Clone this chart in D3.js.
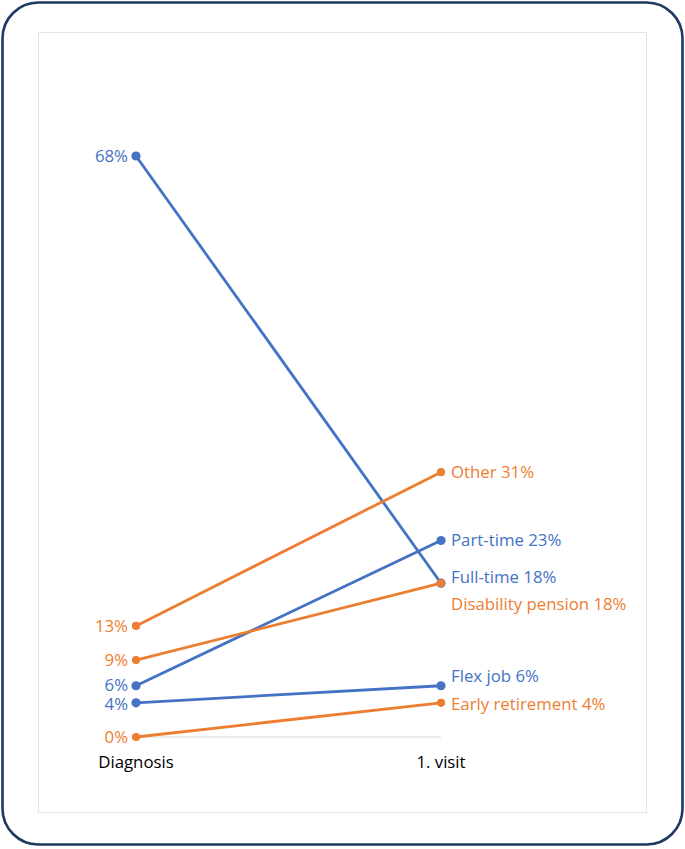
<!DOCTYPE html>
<html><head><meta charset="utf-8">
<script src="https://cdn.jsdelivr.net/npm/d3@7"></script>
<style>body{margin:0;background:#fff}svg{display:block}text{font-family:"Open Sans","Liberation Sans",Arial,sans-serif}</style>
</head><body>
<script>
const categories = ["Diagnosis", "1. visit"];
const seriesNames = ["Full-time", "Part-time", "Flex job", "Other", "Disability pension", "Early retirement"];
const diagnosisValues = [68, 6, 4, 13, 9, 0];
const visitValues = [18, 23, 6, 31, 18, 4];
const seriesGroup = ["blue", "blue", "blue", "orange", "orange", "orange"];

const W = 685, H = 849;
const FS = 16.8;
const colors = {blue: "#4472C4", orange: "#ED7D31"};
const svg = d3.select("body").append("svg").attr("width", W).attr("height", H);

svg.append("rect").attr("x", 2.5).attr("y", 2.5).attr("width", 680).attr("height", 842)
  .attr("rx", 36).attr("fill", "#fff").attr("stroke", "#1F3A60").attr("stroke-width", 2.6);
svg.append("rect").attr("x", 38.5).attr("y", 32.5).attr("width", 608).attr("height", 780)
  .attr("fill", "none").attr("stroke", "#E4E4E4").attr("stroke-width", 1);

const x = d3.scalePoint().domain(categories).range([136, 441]);
const y = d3.scaleLinear().domain([0, 68]).range([737, 156]);

svg.append("line").attr("x1", x(categories[0])).attr("x2", x(categories[1]))
  .attr("y1", y(0)).attr("y2", y(0)).attr("stroke", "#D9D9D9").attr("stroke-width", 1);

const data = seriesNames.map((n, i) => ({name: n, a: diagnosisValues[i], b: visitValues[i], c: colors[seriesGroup[i]], g: seriesGroup[i]}));
const order = data.filter(d => d.g === "blue").concat(data.filter(d => d.g === "orange"));

order.forEach(d => {
  svg.append("line").attr("x1", x(categories[0])).attr("y1", y(d.a))
    .attr("x2", x(categories[1])).attr("y2", y(d.b))
    .attr("stroke", d.c).attr("stroke-width", 2.8);
  const r = d.g === "blue" ? 4.6 : 4.1;
  svg.append("circle").attr("cx", x(categories[0])).attr("cy", y(d.a)).attr("r", r).attr("fill", d.c);
  svg.append("circle").attr("cx", x(categories[1])).attr("cy", y(d.b)).attr("r", r).attr("fill", d.c);
});

const rightNudge = {"Full-time": -6, "Disability pension": 21, "Flex job": -10, "Early retirement": 1};
const leftNudge = {"Part-time": -1, "Flex job": 1.5};

data.forEach(d => {
  svg.append("text").attr("x", x(categories[0]) - 8).attr("y", y(d.a) + (leftNudge[d.name] || 0))
    .attr("dy", "0.35em").attr("text-anchor", "end").attr("font-size", FS).attr("fill", d.c)
    .text(d.a + "%");
  svg.append("text").attr("x", x(categories[1]) + 10).attr("y", y(d.b) + (rightNudge[d.name] || 0))
    .attr("dy", "0.35em").attr("text-anchor", "start").attr("font-size", FS).attr("fill", d.c)
    .text(d.name + " " + d.b + "%");
});

categories.forEach(c => {
  svg.append("text").attr("x", x(c)).attr("y", 762).attr("dy", "0.35em")
    .attr("text-anchor", "middle").attr("font-size", FS).attr("fill", "#000").text(c);
});
</script>
</body></html>
